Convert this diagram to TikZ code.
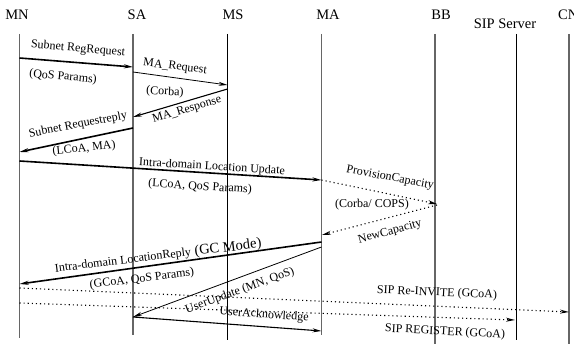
\documentclass[tikz,border=0pt]{standalone}
\usepackage{fontspec}
\setmainfont{Liberation Serif}
\usetikzlibrary{arrows.meta}
\begin{document}
\begin{tikzpicture}[x=1pt,y=-1pt,
  hdr/.style={font=\fontsize{14.5}{16}\selectfont, inner sep=0pt},
  lbl/.style={font=\fontsize{12}{14}\selectfont, inner sep=0pt},
  big/.style={font=\fontsize{14.5}{16}\selectfont, inner sep=0pt},
  lifeg/.style={line width=1.3pt, draw=black!60},
  lifeb/.style={line width=0.8pt, draw=black},
  tip/.style={-{Stealth[length=9pt,width=4pt]}},
  msgthin/.style={tip, line width=0.8pt},
  msgmid/.style={tip, line width=1.1pt},
  msgthick/.style={tip, line width=1.6pt},
  dotmsg/.style={tip, line width=1.1pt, dash pattern=on 1.1pt off 3pt}
]
\useasboundingbox (0,0) rectangle (574,344);

% headers
\node[hdr] (hMN) at (17,15) {MN};
\node[hdr] (hSA) at (137,15) {SA};
\node[hdr] (hMS) at (233,15) {MS};
\node[hdr] (hMA) at (328,15) {MA};
\node[hdr] (hBB) at (441,15) {BB};
\node[hdr] (hSIP) at (505,24) {SIP Server};
\node[hdr, anchor=west] (hCN) at (558,15) {CN};

% lifelines
\coordinate (mnT) at (19.5,34);  \coordinate (mnB) at (19.5,338);
\coordinate (saT) at (133,34);   \coordinate (saB) at (133,335);
\coordinate (msT) at (227.5,34); \coordinate (msB) at (227.5,340);
\coordinate (maT) at (321.5,34); \coordinate (maB) at (321.5,335);
\coordinate (bbT) at (435,34);   \coordinate (bbB) at (435,344);
\coordinate (spT) at (516,34);   \coordinate (spB) at (516,340);
\coordinate (cnT) at (569,34);   \coordinate (cnB) at (569,344);
\draw[lifeg] (mnT) -- (mnB);
\draw[lifeg] (saT) -- (saB);
\draw[lifeb] (msT) -- (msB);
\draw[lifeg] (maT) -- (maB);
\draw[lifeg] (bbT) -- (bbB);
\draw[lifeb] (spT) -- (spB);
\draw[lifeg] (cnT) -- (cnB);

% message end points
\coordinate (a1) at (19.5,58);  \coordinate (b1) at (133,67);
\coordinate (a2) at (133,72);   \coordinate (b2) at (227.5,85);
\coordinate (a3) at (227.5,89); \coordinate (b3) at (133,117);
\coordinate (a4) at (133,128);  \coordinate (b4) at (19.5,152);
\coordinate (a5) at (19.5,161); \coordinate (b5) at (321.5,180);
\coordinate (a6) at (321.5,180);\coordinate (b6) at (437,204);
\coordinate (a7) at (437,205);  \coordinate (b7) at (322,235);
\coordinate (a8) at (321.5,242);\coordinate (b8) at (19.5,284);
\coordinate (a9) at (321.5,247);\coordinate (b9) at (133,317);
\coordinate (a10) at (19.5,288);\coordinate (b10) at (569,312);
\coordinate (a11) at (19.5,303);\coordinate (b11) at (515,320);
\coordinate (a12) at (133,317); \coordinate (b12) at (321.5,331);

\draw[msgthick] (a1) -- (b1);
\draw[msgthin]  (a2) -- (b2);
\draw[msgmid]   (a3) -- (b3);
\draw[msgthick] (a4) -- (b4);
\draw[msgthick] (a5) -- (b5);
\draw[dotmsg]   (a6) -- (b6);
\draw[dotmsg]   (a7) -- (b7);
\draw[msgthick] (a8) -- (b8);
\draw[msgthin]  (a9) -- (b9);
\draw[dotmsg]   (a10) -- (b10);
\draw[dotmsg]   (a11) -- (b11);
\draw[msgmid]   (a12) -- (b12);

% labels
\node[lbl, rotate=-5] (l1) at (78,49) {Subnet RegRequest};
\node[lbl, rotate=-5] (l1b) at (63,77) {(QoS Params)};
\node[lbl, rotate=-7] (l2) at (175,67) {MA\_Request};
\node[lbl, rotate=-3] (l2b) at (165,92) {(Corba)};
\node[lbl, rotate=17] (l3) at (187,110) {MA\_Response};
\node[lbl, rotate=11] (l4) at (78,125) {Subnet Requestreply};
\node[lbl, rotate=6] (l4b) at (84,148.5) {(LCoA, MA)};
\node[lbl, rotate=-3.5] (l5) at (212,167) {Intra-domain Location Update};
\node[lbl, rotate=-3.5] (l5b) at (200,187) {(LCoA, QoS Params)};
\node[lbl, rotate=-11] (l6) at (390,178) {ProvisionCapacity};
\node[lbl] (l6b) at (372,205) {(Corba/ COPS)};
\node[lbl, rotate=15] (l7) at (390,232) {NewCapacity};
\node[lbl, rotate=7] (l8) at (123,261) {Intra-domain LocationReply};
\node[big, rotate=7] (l8b) at (228,248) {(GC Mode)};
\node[lbl, rotate=7] (l8c) at (142,279) {(GCoA, QoS Params)};
\node[lbl, rotate=20] (l9) at (240,291) {UserUpdate (MN, QoS)};
\node[lbl, rotate=-4] (l12) at (264,315) {UserAcknowledge};
\node[lbl, rotate=-2.5] (l10) at (437,293) {SIP Re-INVITE (GCoA)};
\node[lbl, rotate=-3] (l11) at (445,332) {SIP REGISTER (GCoA)};
\end{tikzpicture}
\end{document}
